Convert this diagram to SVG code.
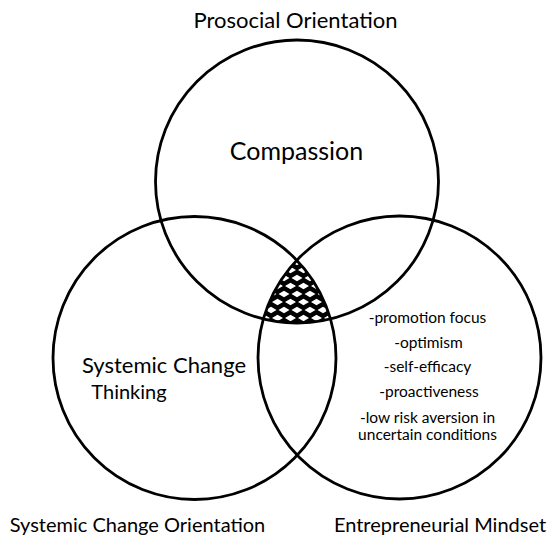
<svg xmlns="http://www.w3.org/2000/svg" width="556" height="536" viewBox="0 0 556 536">
  <style>
    .ring { fill: none; stroke: #000; stroke-width: 2.8; }
    .lbl { font-family: Lato, "Liberation Sans", sans-serif; fill: #000; text-anchor: middle; }
    .title { font-size: 22px; }
    .big { font-size: 25px; }
    .mid { font-size: 22px; }
    .foot { font-size: 20px; }
    .trait { font-size: 15.5px; }
  </style>
  <defs>
    <!-- black trellis with staggered white diamond holes, used for the triple overlap -->
    <pattern id="net" x="297" y="262" width="13" height="16" patternUnits="userSpaceOnUse">
      <rect width="13" height="16" fill="#000"/>
      <path fill="#fff" d="M6.5,4.7L12,8L6.5,11.3L1,8Z M0,-3.3L5.5,0L0,3.3L-5.5,0Z M13,-3.3L18.5,0L13,3.3L7.5,0Z M0,12.7L5.5,16L0,19.3L-5.5,16Z M13,12.7L18.5,16L13,19.3L7.5,16Z"/>
    </pattern>
    <clipPath id="clipTop"><circle cx="297" cy="181.5" r="141.5"/></clipPath>
    <clipPath id="clipLeft"><circle cx="194.5" cy="358" r="141.5"/></clipPath>
    <clipPath id="clipRight"><circle cx="399.5" cy="357.5" r="141.5"/></clipPath>
  </defs>

  <rect width="556" height="536" fill="#fff"/>

  <!-- region shared by all three circles -->
  <g id="overlap" clip-path="url(#clipTop)">
    <g clip-path="url(#clipLeft)">
      <rect x="240" y="240" width="110" height="100" fill="url(#net)" clip-path="url(#clipRight)"/>
    </g>
  </g>

  <g id="prosocial">
    <circle class="ring" cx="297" cy="181.5" r="141.5"/>
    <text class="lbl title" x="295.5" y="28">Prosocial Orientation</text>
    <text class="lbl big" x="296.5" y="160">Compassion</text>
  </g>

  <g id="systemic">
    <circle class="ring" cx="194.5" cy="358" r="141.5"/>
    <text class="lbl mid" x="164" y="373">Systemic Change</text>
    <text class="lbl foot" x="129" y="399">Thinking</text>
    <text class="lbl foot" x="137.5" y="532">Systemic Change Orientation</text>
  </g>

  <g id="entrepreneurial">
    <circle class="ring" cx="399.5" cy="357.5" r="141.5"/>
    <text class="lbl trait" x="427.5" y="323">-promotion focus</text>
    <text class="lbl trait" x="428.5" y="348">-optimism</text>
    <text class="lbl trait" x="427.5" y="372">-self-efficacy</text>
    <text class="lbl trait" x="429" y="397">-proactiveness</text>
    <text class="lbl trait" x="427.5" y="423">-low risk aversion in</text>
    <text class="lbl trait" x="427.5" y="440">uncertain conditions</text>
    <text class="lbl foot" x="440" y="532">Entrepreneurial Mindset</text>
  </g>

  <g id="connectors"/>
</svg>
